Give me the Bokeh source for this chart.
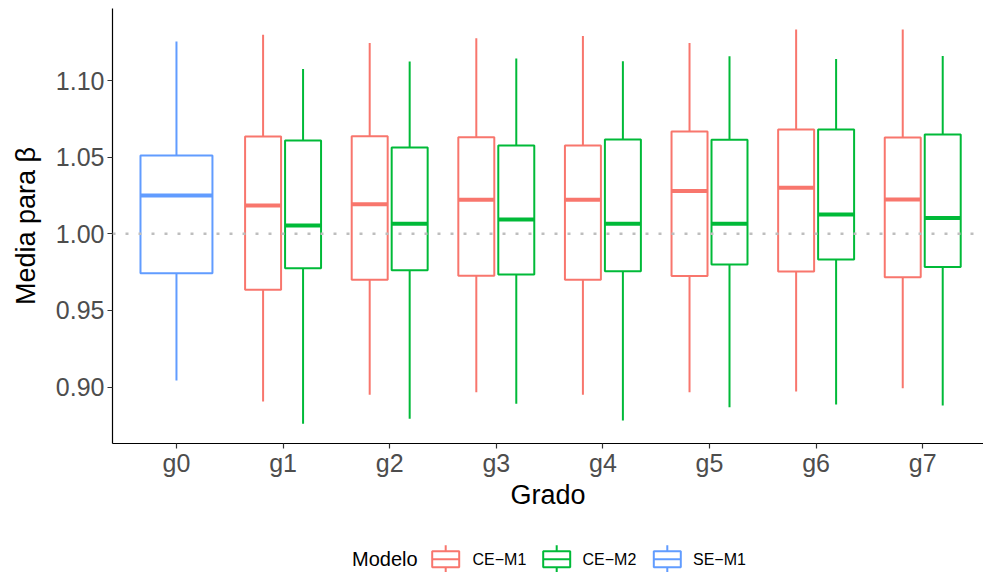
from bokeh.plotting import figure
from bokeh.layouts import column
from bokeh.models import Range1d, FixedTicker, Span, PrintfTickFormatter, ColumnDataSource
from bokeh.embed import file_html
from bokeh.resources import INLINE
from bokeh.core.properties import value

# ---- data -------------------------------------------------------------
grados = ["g0", "g1", "g2", "g3", "g4", "g5", "g6", "g7"]
modelos = ["CE\u2212M1", "CE\u2212M2", "SE\u2212M1"]
colores = ["#F8766D", "#00BA38", "#619CFF"]
y_ticks = [0.90, 0.95, 1.00, 1.05, 1.10]
referencia = 1.00

# CE-M1 (grados g1..g7)
ce_m1_grado = ["g1", "g2", "g3", "g4", "g5", "g6", "g7"]
ce_m1_ymin = [0.8906, 0.8950, 0.8967, 0.8950, 0.8967, 0.8971, 0.8993]
ce_m1_lower = [0.9635, 0.9700, 0.9726, 0.9700, 0.9724, 0.9754, 0.9717]
ce_m1_middle = [1.0185, 1.0193, 1.0222, 1.0222, 1.0280, 1.0300, 1.0224]
ce_m1_upper = [1.0635, 1.0637, 1.0630, 1.0576, 1.0667, 1.0680, 1.0628]
ce_m1_ymax = [1.1298, 1.1245, 1.1276, 1.1291, 1.1245, 1.1333, 1.1333]

# CE-M2 (grados g1..g7)
ce_m2_grado = ["g1", "g2", "g3", "g4", "g5", "g6", "g7"]
ce_m2_ymin = [0.8761, 0.8793, 0.8891, 0.8782, 0.8869, 0.8887, 0.8880]
ce_m2_lower = [0.9776, 0.9763, 0.9735, 0.9756, 0.9800, 0.9832, 0.9783]
ce_m2_middle = [1.0054, 1.0065, 1.0093, 1.0065, 1.0065, 1.0126, 1.0104]
ce_m2_upper = [1.0609, 1.0563, 1.0576, 1.0615, 1.0613, 1.0680, 1.0648]
ce_m2_ymax = [1.1076, 1.1124, 1.1143, 1.1126, 1.1158, 1.1141, 1.1160]

# SE-M1 (only g0)
se_m1_grado = ["g0"]
se_m1_ymin = [0.9043]
se_m1_lower = [0.9743]
se_m1_middle = [1.0250]
se_m1_upper = [1.0511]
se_m1_ymax = [1.1254]

FONT = "Liberation Sans"
LEFT = 112          # width reserved for the y axis
W, H_MAIN, H_LEG = 983, 520, 52

# ---- main panel ---------------------------------------------------------
p = figure(width=W, height=H_MAIN,
           x_range=Range1d(0.4, 8.57), y_range=Range1d(0.8632, 1.1470),
           output_backend="svg", toolbar_location=None,
           min_border_left=LEFT, min_border_right=0,
           min_border_top=8, min_border_bottom=77)
p.xgrid.visible = False
p.ygrid.visible = False
p.outline_line_color = None
p.background_fill_color = "white"
p.border_fill_color = "white"

pos = {g: i + 1 for i, g in enumerate(grados)}


def draw_boxes(grado, ymin, lower, middle, upper, ymax, color, offset, width):
    xc = [pos[g] + offset for g in grado]
    src = ColumnDataSource(dict(
        x=xc,
        left=[x - width / 2 for x in xc],
        right=[x + width / 2 for x in xc],
        ymin=ymin, lower=lower, middle=middle, upper=upper, ymax=ymax,
    ))
    p.segment(x0="x", y0="upper", x1="x", y1="ymax", source=src,
              line_color=color, line_width=2)
    p.segment(x0="x", y0="ymin", x1="x", y1="lower", source=src,
              line_color=color, line_width=2)
    p.quad(left="left", right="right", bottom="lower", top="upper", source=src,
           fill_color="white", line_color=color, line_width=2)
    p.segment(x0="left", y0="middle", x1="right", y1="middle", source=src,
              line_color=color, line_width=4)


dodge = 0.75 / 2
box_w = dodge * 0.9
draw_boxes(ce_m1_grado, ce_m1_ymin, ce_m1_lower, ce_m1_middle, ce_m1_upper,
           ce_m1_ymax, colores[0], -dodge / 2, box_w)
draw_boxes(ce_m2_grado, ce_m2_ymin, ce_m2_lower, ce_m2_middle, ce_m2_upper,
           ce_m2_ymax, colores[1], dodge / 2, box_w)
draw_boxes(se_m1_grado, se_m1_ymin, se_m1_lower, se_m1_middle, se_m1_upper,
           se_m1_ymax, colores[2], 0.0, 0.75 * 0.9)

p.add_layout(Span(location=referencia, dimension="width", line_color="#BEBEBE",
                  line_width=2.5, line_dash="3 10"))

# axes
p.xaxis.ticker = FixedTicker(ticks=[pos[g] for g in grados])
p.xaxis.major_label_overrides = {pos[g]: g for g in grados}
p.yaxis.ticker = FixedTicker(ticks=y_ticks)
p.yaxis.formatter = PrintfTickFormatter(format="%.2f")
for ax in (p.xaxis, p.yaxis):
    ax.axis_line_color = "black"
    ax.axis_line_width = 1.2
    ax.major_tick_line_color = "#333333"
    ax.major_tick_line_width = 1.2
    ax.major_tick_out = 5
    ax.major_tick_in = 0
    ax.minor_tick_line_color = None
    ax.major_label_text_font = FONT
    ax.major_label_text_font_size = "25px"
    ax.major_label_text_color = "#4D4D4D"
    ax.axis_label_text_font = FONT
    ax.axis_label_text_font_size = "27px"
    ax.axis_label_text_font_style = "normal"
    ax.axis_label_text_color = "black"
p.xaxis.major_label_standoff = 0
p.yaxis.major_label_standoff = 3
p.xaxis.axis_label = "Grado"
p.yaxis.axis_label = "Media para \u03b2"
p.xaxis.axis_label_standoff = 0
p.yaxis.axis_label_standoff = 12

# ---- legend strip (x/y in pixels of the strip) ---------------------------
leg = figure(width=W, height=H_LEG, x_range=Range1d(LEFT, W), y_range=Range1d(0, H_LEG),
             output_backend="svg", toolbar_location=None,
             x_axis_type=None, y_axis_type=None,
             min_border_left=LEFT, min_border_right=0,
             min_border_top=0, min_border_bottom=0)
leg.xgrid.visible = False
leg.ygrid.visible = False
leg.outline_line_color = None
leg.background_fill_color = "white"
leg.border_fill_color = "white"

yc = 13.3          # vertical centre of the legend row
key_w, key_h = 27, 16
key_left = [431.7, 542.7, 653.3]
label_x = [472.0, 582.0, 692.5]

leg.text(x=[351.5], y=[yc], text=["Modelo"], text_font=value(FONT),
         text_font_size="20px", text_baseline="middle", text_align="left",
         text_color="black")
for kl, lx, name, col in zip(key_left, label_x, modelos, colores):
    xm = kl + key_w / 2
    leg.segment(x0=[xm, xm], y0=[yc + key_h / 2, yc - key_h / 2],
                x1=[xm, xm], y1=[yc + key_h / 2 + 6, 0],
                line_color=col, line_width=2)
    leg.quad(left=[kl], right=[kl + key_w], bottom=[yc - key_h / 2], top=[yc + key_h / 2],
             fill_color="white", line_color=col, line_width=2)
    leg.segment(x0=[kl], y0=[yc], x1=[kl + key_w], y1=[yc], line_color=col, line_width=2)
    leg.text(x=[lx], y=[yc], text=[name], text_font=value(FONT),
             text_font_size="16px", text_baseline="middle", text_align="left",
             text_color="black")

layout = column(p, leg, spacing=0)
open("out.html", "w").write(file_html(layout, INLINE))
